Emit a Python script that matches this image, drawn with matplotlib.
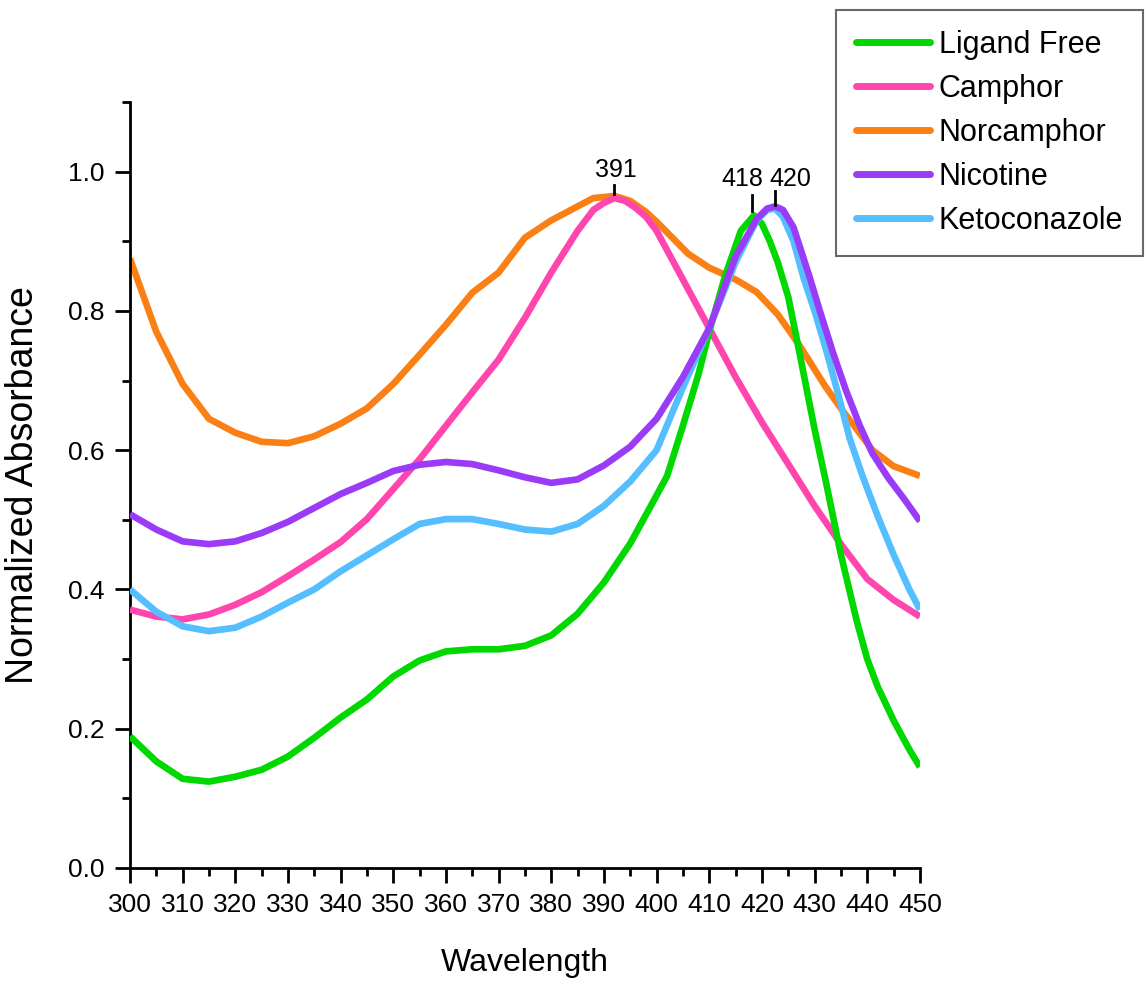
import matplotlib
matplotlib.use("Agg")
import matplotlib.pyplot as plt
from matplotlib.ticker import MultipleLocator

# ---------------- data ----------------
wl_free = [300, 305, 310, 315, 320, 325, 330, 335, 340, 345, 350, 355, 360, 365, 370, 375, 380, 385, 390, 395,
           400, 402, 405, 408, 410, 413, 416, 418.5, 420, 421.5, 423, 425, 427, 430, 432, 435, 438, 440, 442,
           445, 448, 450]
abs_free = [0.189, 0.153, 0.128, 0.124, 0.131, 0.141, 0.160, 0.187, 0.216, 0.242, 0.275, 0.298, 0.311, 0.314,
            0.314, 0.319, 0.334, 0.365, 0.410, 0.466, 0.535, 0.563, 0.635, 0.710, 0.770, 0.850, 0.915, 0.937,
            0.925, 0.900, 0.870, 0.820, 0.745, 0.630, 0.560, 0.450, 0.355, 0.300, 0.260, 0.212, 0.170, 0.145]

wl_camphor = [300, 305, 310, 315, 320, 325, 330, 335, 340, 345, 350, 355, 360, 365, 370, 375, 380, 385, 388, 390,
              392, 394, 396, 398, 400, 405, 410, 415, 420, 425, 430, 435, 440, 445, 450]
abs_camphor = [0.371, 0.361, 0.357, 0.364, 0.378, 0.396, 0.419, 0.443, 0.468, 0.501, 0.544, 0.587, 0.635, 0.683,
               0.730, 0.790, 0.855, 0.915, 0.945, 0.955, 0.962, 0.958, 0.948, 0.935, 0.915, 0.845, 0.775, 0.705,
               0.640, 0.580, 0.520, 0.465, 0.415, 0.385, 0.361]

wl_norcamphor = [300, 305, 310, 315, 320, 325, 330, 335, 340, 345, 350, 355, 360, 365, 370, 375, 380, 385, 388,
                 392, 395, 398, 400, 403, 406, 410, 415, 419, 423, 427, 432, 435, 438, 441, 445, 450]
abs_norcamphor = [0.875, 0.770, 0.695, 0.645, 0.625, 0.612, 0.610, 0.620, 0.638, 0.660, 0.695, 0.737, 0.780,
                  0.826, 0.855, 0.905, 0.930, 0.950, 0.962, 0.965, 0.958, 0.942, 0.928, 0.905, 0.882, 0.862,
                  0.845, 0.827, 0.795, 0.752, 0.692, 0.660, 0.630, 0.600, 0.577, 0.563]

wl_nicotine = [300, 305, 310, 315, 320, 325, 330, 335, 340, 345, 350, 355, 360, 365, 370, 375, 380, 385, 390, 395,
               400, 405, 410, 415, 419, 421, 422.5, 424, 426, 429, 431, 433.5, 436, 438.6, 441, 444, 447, 450]
abs_nicotine = [0.508, 0.486, 0.469, 0.465, 0.469, 0.481, 0.497, 0.517, 0.537, 0.553, 0.570, 0.579, 0.583, 0.580,
                0.571, 0.561, 0.553, 0.558, 0.578, 0.605, 0.645, 0.705, 0.775, 0.878, 0.932, 0.947, 0.950, 0.945,
                0.920, 0.850, 0.800, 0.740, 0.685, 0.635, 0.595, 0.560, 0.530, 0.498]

wl_keto = [300, 305, 310, 315, 320, 325, 330, 335, 340, 345, 350, 355, 360, 365, 370, 375, 380, 385, 390, 395,
           400, 405, 410, 415, 419, 421, 422.5, 424, 426, 428, 430, 432.3, 434.5, 436.7, 439, 442, 445, 448, 450]
abs_keto = [0.400, 0.368, 0.347, 0.340, 0.345, 0.361, 0.381, 0.400, 0.426, 0.449, 0.472, 0.494, 0.501, 0.501,
            0.494, 0.486, 0.483, 0.494, 0.520, 0.555, 0.600, 0.690, 0.775, 0.870, 0.930, 0.945, 0.947, 0.935,
            0.900, 0.845, 0.800, 0.741, 0.680, 0.616, 0.565, 0.505, 0.450, 0.400, 0.371]

series_labels = ["Ligand Free", "Camphor", "Norcamphor", "Nicotine", "Ketoconazole"]
peak_labels = ["391", "418", "420"]
peak_x = [392, 418.2, 422.5]

# ---------------- figure ----------------
fig = plt.figure(figsize=(11.47, 9.88), dpi=100)
ax = fig.add_axes([0.1133, 0.1215, 0.802 - 0.1133, 0.8968 - 0.1215])

colors = ["#00D800", "#FF45AE", "#FA8016", "#9A3CF7", "#55BEFF"]
data = [(wl_free, abs_free), (wl_camphor, abs_camphor), (wl_norcamphor, abs_norcamphor),
        (wl_nicotine, abs_nicotine), (wl_keto, abs_keto)]
zorders = [4, 3, 2, 5, 4]
handles = []
for (x, y), c, lab, z in zip(data, colors, series_labels, zorders):
    h, = ax.plot(x, y, color=c, lw=4.8, label=lab, zorder=z, solid_joinstyle="round", solid_capstyle="butt")
    handles.append(h)

ax.set_xlim(300, 450)
ax.set_ylim(0, 1.1)
ax.xaxis.set_major_locator(MultipleLocator(10))
ax.xaxis.set_minor_locator(MultipleLocator(5))
ax.yaxis.set_minor_locator(MultipleLocator(0.1))
ax.set_yticks([0.0, 0.2, 0.4, 0.6, 0.8, 1.0])
ax.set_yticklabels(["0.0", "0.2", "0.4", "0.6", "0.8", "1.0"])

for s in ["top", "right"]:
    ax.spines[s].set_visible(False)
for s in ["left", "bottom"]:
    ax.spines[s].set_linewidth(2)

ax.tick_params(which="major", direction="out", length=11, width=2, labelsize=19, pad=7)
ax.tick_params(which="minor", direction="out", length=6, width=2)
for lbl in ax.get_xticklabels() + ax.get_yticklabels():
    lbl.set_fontfamily("Liberation Sans")

ax.set_xlabel("Wavelength", fontsize=23, fontfamily="Liberation Sans", labelpad=22)
ax.set_ylabel("Normalized Absorbance", fontsize=27, fontfamily="Liberation Sans", labelpad=20)

# peak annotations
mark_lo = [0.968, 0.944, 0.952]
mark_hi = [0.981, 0.967, 0.972]
text_x = [392.2, 416.2, 425.3]
text_y = [1.003, 0.990, 0.990]
for px, lo, hi, tx, ty, t in zip(peak_x, mark_lo, mark_hi, text_x, text_y, peak_labels):
    ax.plot([px, px], [lo, hi], color="black", lw=2, zorder=6)
    ax.text(tx, ty, t, ha="center", va="center", fontsize=18, fontfamily="Liberation Sans", zorder=6)

leg = fig.legend(handles=handles, loc="upper right", bbox_to_anchor=(0.9965, 0.99),
                 fontsize=22, frameon=True, fancybox=False, edgecolor="#444444",
                 handlelength=2.4, handletextpad=0.3, labelspacing=0.46, borderpad=0.65,
                 borderaxespad=0)
leg.get_frame().set_linewidth(1.5)
for t in leg.get_texts():
    t.set_fontfamily("Liberation Sans")
for lh in leg.get_lines():
    lh.set_linewidth(5)
    lh.set_solid_capstyle("round")

fig.savefig("out.png", dpi=100, facecolor="white")
